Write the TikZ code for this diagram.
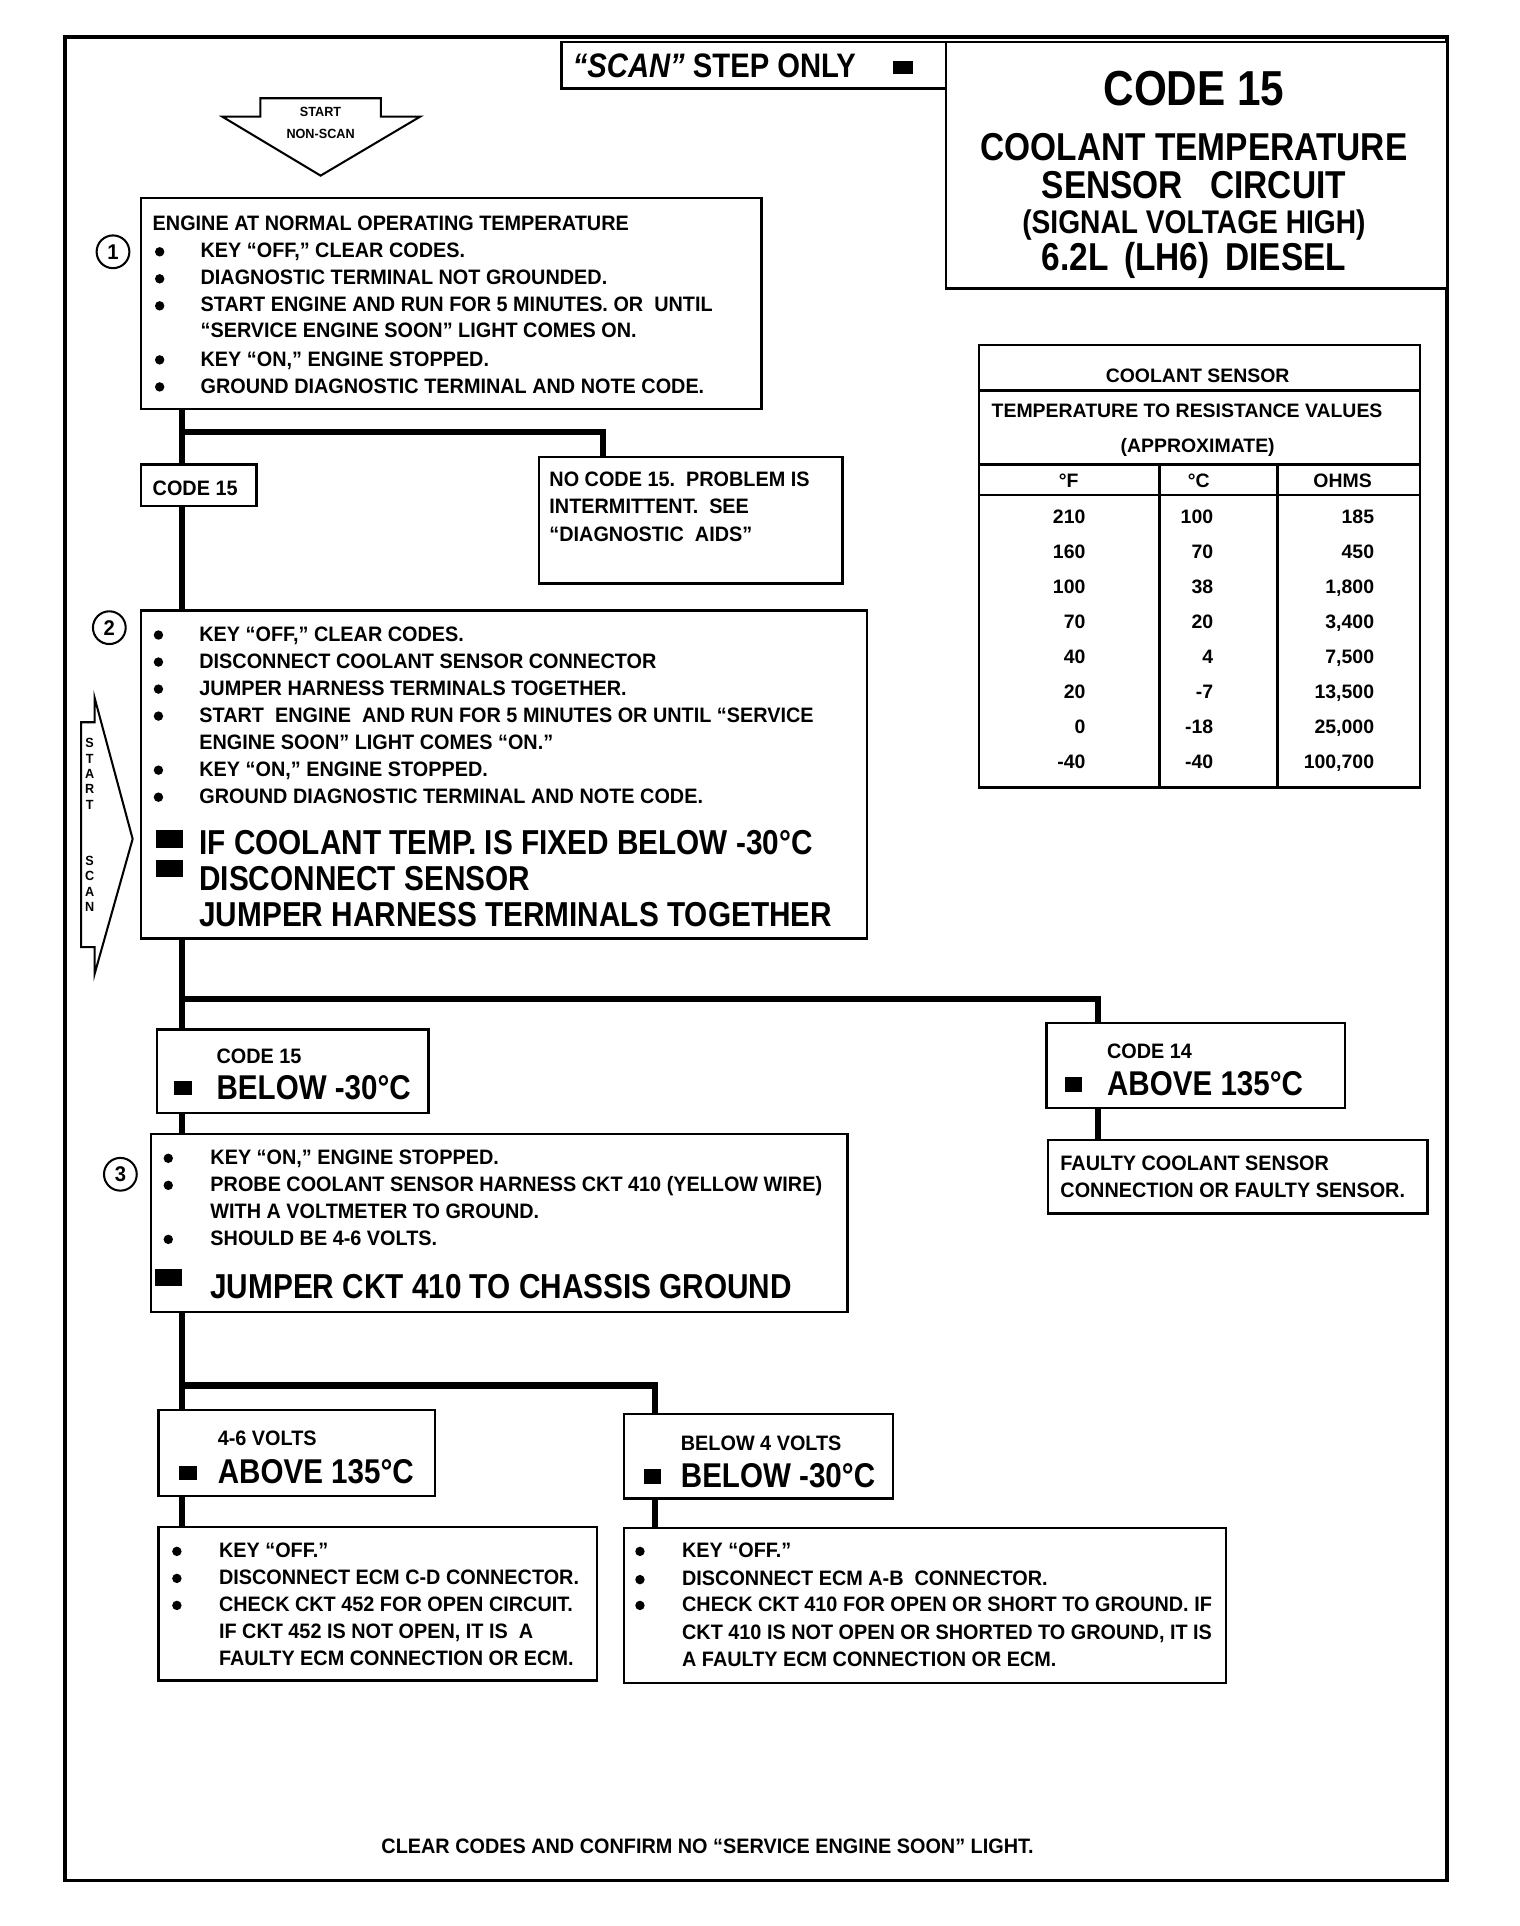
\documentclass[tikz,border=0pt]{standalone}
\usepackage{fontspec}
\setmainfont{Liberation Sans}[Ligatures=TeX, FakeStretch=0.95]
\newfontfamily\narrowfont{Liberation Sans}[Ligatures=TeX, FakeStretch=0.86]
\newfontfamily\tablefont{Liberation Sans}[Ligatures=TeX]
\usetikzlibrary{calc,fit}

\begin{document}
\begin{tikzpicture}[x=0.6pt, y=-0.6pt,
    box/.style={draw, line width=1.2pt, fill=white, inner sep=0pt},
    conn/.style={line width=3pt},
    txt/.style={anchor=base west, inner sep=0pt, font=\fontsize{10.2}{12}\selectfont\bfseries},
    big/.style={anchor=base west, inner sep=0pt, font=\narrowfont\fontsize{16.9}{20}\selectfont\bfseries},
    mid/.style={anchor=base west, inner sep=0pt, font=\narrowfont\fontsize{16.8}{20}\selectfont\bfseries},
    head/.style={anchor=base, inner sep=0pt, font=\narrowfont\fontsize{19}{22}\selectfont\bfseries},
    dot/.style={circle, fill, inner sep=0pt, minimum size=4.6pt},
    sq/.style={fill, inner sep=0pt, minimum width=8.5pt, minimum height=7pt},
    bigsq/.style={fill, inner sep=0pt, minimum width=13pt, minimum height=8.5pt},
    num/.style={circle, draw, line width=1pt, inner sep=0pt, minimum size=16pt, font=\fontsize{10.4}{12}\selectfont\bfseries},
    tab/.style={inner sep=0pt, font=\tablefont\fontsize{9.5}{11}\selectfont\bfseries},
    tiny/.style={inner sep=0pt, anchor=base, font=\fontsize{6.5}{7}\selectfont\bfseries}]

    \useasboundingbox (0,0) rectangle (1237,1568);
    % 外框
    \draw[line width=1.8pt] (53,30) rectangle (1178,1531);

    % 标题
    \node[box, fit={(457,34) (770,72)}] (scan) {};
    \node[head, anchor=base west, font=\narrowfont\fontsize{16.6}{19}\selectfont\bfseries] (scant) at (466,63) {{\itshape ``SCAN''} STEP ONLY};
    \node[sq, minimum width=10pt, minimum height=6.6pt] (scansq) at (735,55) {};
    \node[box, fit={(770,34) (1178,235)}] (title) {};
    \node[head, font=\narrowfont\fontsize{24}{28}\selectfont\bfseries] (t1) at (972,86) {CODE 15};
    \node[head] (t2) at (972,131) {COOLANT TEMPERATURE};
    \node[head] (t3) at (972,162) {SENSOR\hspace{0.7em}CIRCUIT};
    \node[head, font=\narrowfont\fontsize{16}{19}\selectfont\bfseries] (t4) at (972,190) {(SIGNAL VOLTAGE HIGH)};
    \node[head] (t5) at (972,220) {6.2L\hspace{0.4em}(LH6)\hspace{0.4em}DIESEL};

    % 起点箭头
    \draw[line width=1pt] (212,80) -- (310,80) -- (310,95) -- (342,95) -- (261,143) -- (181,95) -- (212,95) -- cycle;
    \node[tiny] (st1) at (261,95) {START};
    \node[tiny] (st2) at (261,113) {NON-SCAN};
    \draw[line width=1pt] (77,568) -- (108,683) -- (77,793) -- (77,771) -- (66,771) -- (66,588) -- (77,588) -- cycle;
    \foreach \c/\y [count=\i] in {S/605, T/617.5, A/630, R/642.5, T/655, S/701, C/713.5, A/726, N/738.5}
        \node[tiny, anchor=center, font=\fontsize{6.5}{6.5}\selectfont\bfseries] (ss\i) at (73,\y) {\c};

    % 步骤 1
    \node[box, fit={(115,161) (620,333)}] (b1) {};
    \node[num] (n1) at (92,205) {1};
    \node[txt] (b1h) at (124,188) {ENGINE AT NORMAL OPERATING TEMPERATURE};
    \foreach \y [count=\i] in {205,227,249,293,315}
        \node[dot] (d1\i) at (130,\y) {};
    \foreach \y/\s [count=\i] in {210/{KEY ``OFF,'' CLEAR CODES.},
            232/{DIAGNOSTIC TERMINAL NOT GROUNDED.},
            254/{START ENGINE AND RUN FOR 5 MINUTES. OR\ \ UNTIL},
            275/{``SERVICE ENGINE SOON'' LIGHT COMES ON.},
            298/{KEY ``ON,'' ENGINE STOPPED.},
            320/{GROUND DIAGNOSTIC TERMINAL AND NOTE CODE.}}
        \node[txt] (l1\i) at (163,\y) {\s};

    \node[box, fit={(115,378) (209,412)}] (c15a) {};
    \node[txt] (c15at) at (124,403) {CODE 15};
    \node[box, fit={(439,372) (686,475)}] (nc15) {};
    \node[txt] (nc1) at (447,396) {NO CODE 15.\ \ PROBLEM IS};
    \node[txt] (nc2) at (447,418) {INTERMITTENT.\ \ SEE};
    \node[txt] (nc3) at (447,441) {``DIAGNOSTIC\ \ AIDS''};

    % 步骤 2
    \node[box, fit={(115,497) (706,764)}] (b2) {};
    \node[num] (n2) at (89,511) {2};
    \foreach \y [count=\i] in {517,539,561,583,627,649}
        \node[dot] (d2\i) at (129,\y) {};
    \foreach \y/\s [count=\i] in {522/{KEY ``OFF,'' CLEAR CODES.},
            544/{DISCONNECT COOLANT SENSOR CONNECTOR},
            566/{JUMPER HARNESS TERMINALS TOGETHER.},
            588/{START\ \ ENGINE\ \ AND RUN FOR 5 MINUTES OR UNTIL ``SERVICE},
            610/{ENGINE SOON'' LIGHT COMES ``ON.''},
            632/{KEY ``ON,'' ENGINE STOPPED.},
            654/{GROUND DIAGNOSTIC TERMINAL AND NOTE CODE.}}
        \node[txt] (l2\i) at (162,\y) {\s};
    \node[bigsq] (q21) at (138,683) {};
    \node[bigsq] (q22) at (138,707) {};
    \node[big] (g21) at (162,696) {IF COOLANT TEMP. IS FIXED BELOW -30°C};
    \node[big] (g22) at (162,725) {DISCONNECT SENSOR};
    \node[big] (g23) at (162,754) {JUMPER HARNESS TERMINALS TOGETHER};

    \node[box, fit={(128,838) (349,906)}] (c15b) {};
    \node[txt] (c15bt) at (176,866) {CODE 15};
    \node[sq] (c15bq) at (149,886) {};
    \node[mid] (c15bv) at (176,895) {BELOW -30°C};
    \node[box, fit={(852,833) (1095,902)}] (c14) {};
    \node[txt] (c14t) at (901,862) {CODE 14};
    \node[sq] (c14q) at (874,883) {};
    \node[mid] (c14v) at (901,892) {ABOVE 135°C};
    \node[box, fit={(853,928) (1162,988)}] (fa) {};
    \node[txt] (fa1) at (863,953) {FAULTY COOLANT SENSOR};
    \node[txt] (fa2) at (863,975) {CONNECTION OR FAULTY SENSOR.};

    % 步骤 3
    \node[box, fit={(123,923) (690,1068)}] (b3) {};
    \node[num] (n3) at (98,956) {3};
    \foreach \y [count=\i] in {943,965,1009}
        \node[dot] (d3\i) at (137,\y) {};
    \foreach \y/\s [count=\i] in {948/{KEY ``ON,'' ENGINE STOPPED.},
            970/{PROBE COOLANT SENSOR HARNESS CKT 410\ (YELLOW WIRE)},
            992/{WITH A VOLTMETER TO GROUND.},
            1014/{SHOULD BE 4-6 VOLTS.}}
        \node[txt] (l3\i) at (171,\y) {\s};
    \node[bigsq] (q31) at (137,1040) {};
    \node[big] (g31) at (171,1057) {JUMPER CKT 410 TO CHASSIS GROUND};

    \node[box, fit={(129,1148) (354,1218)}] (v46) {};
    \node[txt] (v46t) at (177,1177) {4-6 VOLTS};
    \node[sq] (v46q) at (153,1199) {};
    \node[mid] (v46v) at (177,1208) {ABOVE 135°C};
    \node[box, fit={(508,1151) (727,1220)}] (vlow) {};
    \node[txt] (vlowt) at (554,1181) {BELOW 4 VOLTS};
    \node[sq] (vlowq) at (531,1202) {};
    \node[mid] (vloww) at (554,1211) {BELOW -30°C};

    \node[box, fit={(129,1243) (486,1368)}] (bl) {};
    \foreach \y [count=\i] in {1263,1285,1307}
        \node[dot] (d4\i) at (144,\y) {};
    \foreach \y/\s [count=\i] in {1268/{KEY ``OFF.''},
            1290/{DISCONNECT ECM C-D CONNECTOR.},
            1312/{CHECK CKT 452 FOR OPEN CIRCUIT.},
            1334/{IF CKT 452 IS NOT OPEN, IT IS\ \ A},
            1356/{FAULTY ECM CONNECTION OR ECM.}}
        \node[txt] (l4\i) at (178,\y) {\s};
    \node[box, fit={(508,1244) (998,1370)}] (br) {};
    \foreach \y [count=\i] in {1263,1286,1307}
        \node[dot] (d5\i) at (521,\y) {};
    \foreach \y/\s [count=\i] in {1268/{KEY ``OFF.''},
            1291/{DISCONNECT ECM A-B\ \ CONNECTOR.},
            1312/{CHECK CKT 410 FOR OPEN OR SHORT TO GROUND.\ IF},
            1335/{CKT 410 IS NOT OPEN OR SHORTED TO GROUND, IT IS},
            1357/{A FAULTY ECM CONNECTION OR ECM.}}
        \node[txt] (l5\i) at (555,\y) {\s};

    \node[txt, anchor=base] (end) at (576,1509) {CLEAR CODES AND CONFIRM NO ``SERVICE ENGINE SOON'' LIGHT.};

    % 连线
    \coordinate (spine) at (148,0);
    \coordinate (tapA) at (491,0);
    \coordinate (tapB) at (894,0);
    \coordinate (tapC) at (533,0);
    \coordinate (j1) at (148,352);
    \coordinate (j2) at (148,813);
    \coordinate (j3) at (148,1128);
    \draw[conn] (b1.south -| spine) -- (c15a.north -| spine);
    \draw[conn] (c15a.south -| spine) -- (b2.north -| spine);
    \draw[conn] (j1) -| (nc15.north -| tapA);
    \draw[conn] (b2.south -| spine) -- (c15b.north -| spine);
    \draw[conn] (j2) -| (c14.north -| tapB);
    \draw[conn] (c14.south -| tapB) -- (fa.north -| tapB);
    \draw[conn] (c15b.south -| spine) -- (b3.north -| spine);
    \draw[conn] (b3.south -| spine) -- (v46.north -| spine);
    \draw[conn] (j3) -| (vlow.north -| tapC);
    \draw[conn] (v46.south -| spine) -- (bl.north -| spine);
    \draw[conn] (vlow.south -| tapC) -- (br.north -| tapC);

    % 表格
    \node[box, fit={(797,281) (1156,641)}] (tbl) {};
    \draw[line width=1.2pt] (tbl.west |- 0,318) -- (tbl.east |- 0,318);
    \draw[line width=1.2pt] (tbl.west |- 0,378) -- (tbl.east |- 0,378);
    \draw[line width=1.2pt] (tbl.west |- 0,403) -- (tbl.east |- 0,403);
    \draw[line width=1.2pt] (944,378) -- (tbl.south -| 944,0);
    \draw[line width=1.2pt] (1040,378) -- (tbl.south -| 1040,0);
    \node[tab, anchor=base] (th1) at (975,311) {COOLANT SENSOR};
    \node[tab, anchor=base west] (th2) at (807,340) {TEMPERATURE TO RESISTANCE VALUES};
    \node[tab, anchor=base] (th3) at (975,368) {(APPROXIMATE)};
    \node[tab, anchor=base] (hf) at (870,397) {°F};
    \node[tab, anchor=base] (hc) at (976,397) {°C};
    \node[tab, anchor=base] (ho) at (1093,397) {OHMS};
    \foreach \f/\c/\o [count=\i] in {210/100/185, 160/70/450, 100/38/{1,800}, 70/20/{3,400},
            40/4/{7,500}, 20/-7/{13,500}, 0/-18/{25,000}, -40/-40/{100,700}} {
        \node[tab, anchor=base east] (rf\i) at (884,{426+(\i-1)*28.57}) {\f};
        \node[tab, anchor=base east] (rc\i) at (988,{426+(\i-1)*28.57}) {\c};
        \node[tab, anchor=base east] (ro\i) at (1119,{426+(\i-1)*28.57}) {\o};
    }
\end{tikzpicture}
\end{document}
